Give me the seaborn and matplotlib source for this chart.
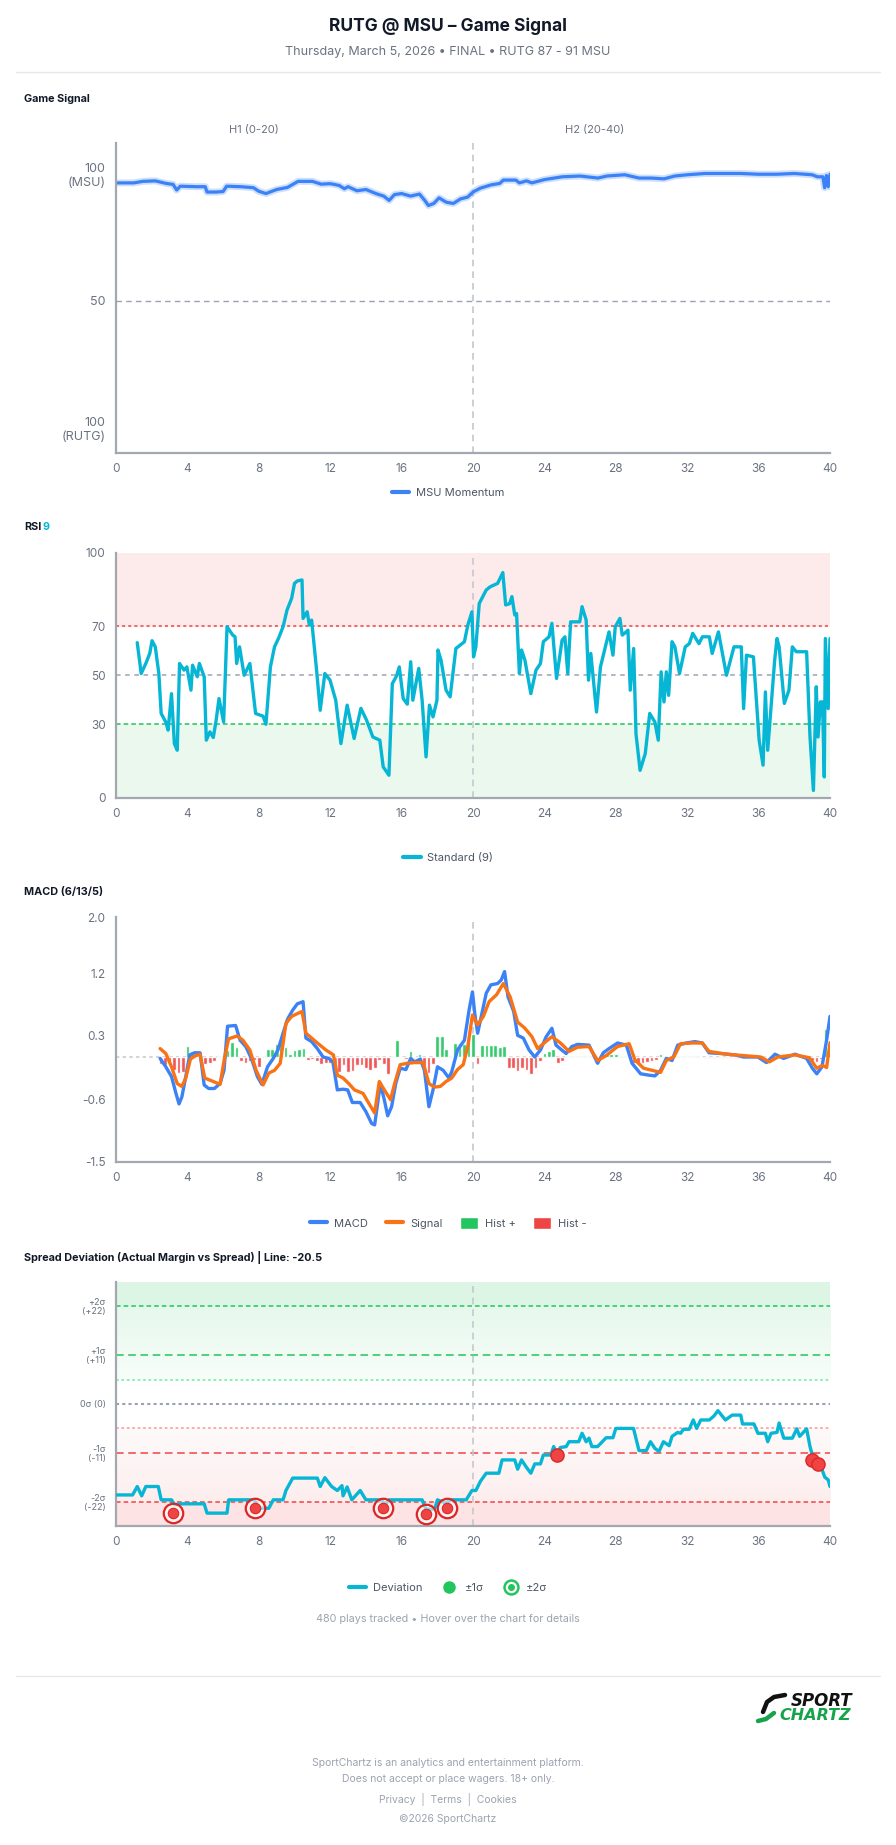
import numpy as np
import matplotlib
matplotlib.use("Agg")
import matplotlib.pyplot as plt
import seaborn as sns
from matplotlib.lines import Line2D
from matplotlib.patches import Patch
from matplotlib.legend_handler import HandlerTuple
from matplotlib.colors import LinearSegmentedColormap

# ---------------- data ----------------
# Game signal (MSU momentum, 0 = RUTG 100, 100 = MSU 100)
gs_t = [0, 1, 1.5, 2.2, 2.8, 3.2, 3.4, 3.6, 4.5, 5.0, 5.1, 5.6, 6.0, 6.2, 7.0, 7.7, 8.0, 8.4, 9.0, 9.6,
        10.2, 11.0, 11.5, 12.0, 12.5, 12.8, 13.0, 13.5, 14.0, 14.6, 15.0, 15.3, 15.6, 16.0, 16.5, 17.0,
        17.3, 17.5, 17.8, 18.1, 18.5, 18.9, 19.3, 19.7, 20.0, 20.4, 21.0, 21.5, 21.7, 22.4, 22.6, 23.0,
        23.3, 24.0, 25.0, 26.0, 27.0, 27.5, 28.5, 29.3, 30.0, 30.7, 31.3, 32.0, 33.0, 35.0, 36.0, 37.0,
        38.0, 39.0, 39.3, 39.6, 39.7, 39.8, 39.9, 40.0]
gs_v = [96.3, 96.3, 96.9, 97.1, 96.1, 95.7, 93.5, 95.0, 94.8, 94.8, 92.7, 92.7, 92.9, 95.0, 94.8, 94.4,
        93.0, 92.1, 93.7, 94.5, 96.9, 96.9, 95.8, 96.0, 95.3, 94.0, 94.8, 93.2, 93.7, 92.0, 91.1, 89.4,
        91.7, 92.1, 91.1, 91.9, 89.4, 87.4, 88.2, 90.4, 88.7, 88.2, 90.0, 90.7, 92.7, 94.2, 95.5, 96.1,
        97.4, 97.4, 96.3, 97.1, 96.3, 97.6, 98.7, 99.0, 98.2, 99.0, 99.5, 98.2, 98.2, 97.9, 99.0, 99.5,
        100, 100, 99.7, 99.7, 100, 99.5, 98.7, 98.7, 94.4, 99.2, 94.8, 99.7]

# RSI 9
rsi_t = [1.19, 1.41, 1.67, 1.89, 2.02, 2.2, 2.4, 2.53, 2.79, 2.92, 3.11, 3.27, 3.43, 3.56, 3.81, 3.97,
         4.2, 4.29, 4.55, 4.67, 4.94, 5.06, 5.26, 5.45, 5.61, 5.77, 6.03, 6.22, 6.54, 6.67, 6.76, 6.92,
         7.18, 7.5, 7.63, 7.82, 8.24, 8.4, 8.65, 8.88, 9.1, 9.36, 9.58, 9.84, 10.0, 10.16, 10.42, 10.48,
         10.71, 10.83, 10.96, 11.22, 11.44, 11.7, 11.99, 12.31, 12.6, 12.95, 13.34, 13.72, 14.04, 14.39,
         14.78, 14.97, 15.29, 15.48, 15.71, 15.87, 16.09, 16.32, 16.51, 16.63, 16.96, 17.15, 17.37, 17.56,
         17.76, 17.98, 18.04, 18.21, 18.49, 18.72, 19.04, 19.52, 19.71, 19.94, 20.03, 20.16, 20.35, 20.74,
         20.96, 21.38, 21.67, 21.83, 22.05, 22.18, 22.34, 22.44, 22.6, 22.72, 22.91, 23.24, 23.53, 23.78,
         23.94, 24.26, 24.42, 24.68, 24.99, 25.15, 25.31, 25.47, 25.98, 26.11, 26.34, 26.47, 26.6, 26.92,
         27.14, 27.62, 27.84, 27.97, 28.23, 28.36, 28.49, 28.68, 28.81, 29.0, 29.13, 29.36, 29.65, 29.9,
         30.19, 30.38, 30.54, 30.7, 30.83, 30.96, 31.15, 31.31, 31.57, 31.89, 32.12, 32.31, 32.66, 32.85,
         33.24, 33.4, 33.75, 34.2, 34.62, 35.03, 35.16, 35.32, 35.71, 36.03, 36.25, 36.38, 36.51, 36.9,
         37.03, 37.15, 37.44, 37.7, 37.89, 38.11, 38.69, 38.88, 39.07, 39.23, 39.33, 39.46, 39.58, 39.68,
         39.74, 39.9, 40.0]
rsi_v = [63.4, 50.8, 54.9, 59, 64.2, 61.7, 50.8, 34.5, 31, 27.7, 42.6, 22.2, 19.5, 54.9, 52.2, 53.5,
         44, 54.2, 49.5, 54.9, 49.5, 23.6, 27, 24.7, 31.7, 40.6, 31, 69.9, 66.5, 65.8, 54.9, 61.7,
         50.1, 54.9, 46.7, 34.5, 33.4, 30.1, 53.5, 61.7, 65.1, 69.9, 76.7, 81.5, 87.6, 88.6, 89, 73.3,
         76, 70.6, 72.6, 53.5, 35.8, 50.8, 48.1, 39.9, 22.2, 37.9, 24.3, 36.6, 31.7, 24.9,
         23.6, 12.7, 9.3, 46.7, 49.7, 53.5, 40.6, 38.3, 55.6, 39.9, 52.9, 39.9, 16.8, 37.9,
         33.1, 39.9, 60.4, 56.2, 44, 41.3, 61, 63.8, 70.6, 76, 57.6, 61.7, 79.4, 84.9,
         86.2, 87.6, 92, 78.8, 79.3, 82.2, 74.7, 75.3, 50.8, 60.4, 56.2, 42.6, 52.2, 54.9,
         63.8, 65.8, 71.3, 48.8, 64.4, 65.8, 50.8, 71.9, 71.9, 78.1, 72.6, 48.1, 59, 35.1,
         53.5, 67.8, 58.3, 69.9, 73.3, 66.5, 67.2, 68.5, 44, 61, 26.3, 11.3, 18.1, 34.5,
         31, 23.6, 51.5, 39.2, 51.5, 41.9, 63.8, 61.7, 50.8, 61.7, 63, 67.2, 63, 65.8,
         65.8, 59, 67.8, 50.1, 61.7, 61.7, 36.5, 58.3, 57.6, 23.6, 13.4, 43.3, 19.5, 56.2,
         65.1, 61.7, 38.6, 44, 61.7, 59.7, 59.7, 24.9, 3.1, 45.4, 24.9, 39.2, 39.2, 8.6,
         65.1, 36.5, 65.1]

# MACD (6/13/5)
macd_t = [2.47, 2.79, 3.11, 3.36, 3.53, 3.69, 3.91, 4.13, 4.39, 4.71, 4.94, 5.19, 5.51, 5.83, 6.05, 6.25,
          6.7, 6.95, 7.27, 7.6, 7.92, 8.17, 8.49, 8.81, 9.07, 9.36, 9.61, 9.9, 10.16, 10.48, 10.64, 10.96,
          11.28, 11.6, 11.92, 12.15, 12.4, 12.72, 12.98, 13.24, 13.68, 14.0, 14.32, 14.49, 14.81, 15.03,
          15.22, 15.44, 15.67, 15.92, 16.24, 16.51, 16.73, 17.05, 17.28, 17.53, 17.76, 18.01, 18.33, 18.65,
          18.81, 19.13, 19.52, 19.78, 19.97, 20.1, 20.26, 20.48, 20.74, 21.0, 21.38, 21.58, 21.77, 21.96,
          22.28, 22.5, 22.82, 23.14, 23.46, 23.78, 24.1, 24.42, 24.65, 24.97, 25.22, 25.54, 25.86, 26.5,
          26.98, 27.3, 27.62, 28.1, 28.59, 28.91, 29.39, 29.87, 30.19, 30.51, 30.83, 31.15, 31.47, 31.95,
          32.43, 32.85, 33.22, 33.87, 34.67, 35.16, 35.96, 36.44, 36.92, 37.4, 38.04, 38.69, 39.01, 39.26,
          39.55, 39.81, 40.0]
macd_v = [-0.02, -0.14, -0.28, -0.52, -0.67, -0.57, -0.28, 0.03, 0.06, 0.06, -0.40, -0.45, -0.45, -0.38,
          -0.19, 0.44, 0.45, 0.24, 0.15, -0.03, -0.28, -0.39, -0.14, -0.02, 0.10, 0.34, 0.54, 0.67, 0.76,
          0.79, 0.27, 0.22, 0.12, 0.0, -0.02, -0.07, -0.47, -0.46, -0.47, -0.65, -0.65, -0.78, -0.95,
          -0.97, -0.38, -0.61, -0.84, -0.71, -0.38, -0.16, -0.18, -0.02, -0.07, -0.03, -0.19, -0.71,
          -0.47, -0.14, -0.19, -0.30, -0.21, 0.10, 0.24, 0.67, 0.93, 0.62, 0.34, 0.60, 0.91, 1.03, 1.05,
          1.10, 1.22, 0.86, 0.65, 0.31, 0.27, 0.10, 0.0, 0.10, 0.29, 0.41, 0.17, 0.10, 0.05, 0.15, 0.18,
          0.17, -0.09, 0.06, 0.12, 0.20, 0.17, -0.09, -0.24, -0.26, -0.27, -0.19, -0.02, -0.05, 0.17,
          0.20, 0.22, 0.20, 0.06, 0.05, 0.03, 0.0, 0.0, -0.08, 0.04, -0.02, 0.04, -0.02, -0.16, -0.24,
          -0.14, 0.24, 0.58]
sig_t = [2.47, 2.79, 3.11, 3.43, 3.69, 3.91, 4.17, 4.46, 4.71, 4.97, 5.35, 5.83, 6.09, 6.31, 6.79, 7.11,
         7.5, 7.85, 8.24, 8.56, 8.88, 9.2, 9.52, 9.84, 10.16, 10.42, 10.64, 10.96, 11.28, 11.76, 12.18,
         12.4, 12.72, 13.04, 13.36, 13.84, 14.16, 14.49, 14.75, 15.03, 15.38, 15.61, 15.92, 16.31, 16.73,
         17.21, 17.53, 17.85, 18.17, 18.49, 18.81, 19.13, 19.45, 19.71, 19.97, 20.26, 20.58, 20.9, 21.32,
         21.7, 22.08, 22.5, 22.91, 23.3, 23.62, 23.94, 24.42, 24.9, 25.38, 25.86, 26.5, 26.98, 27.46,
         28.1, 28.75, 29.07, 29.55, 30.03, 30.51, 30.83, 31.25, 31.63, 32.27, 32.85, 33.22, 34.2, 35.16,
         36.12, 36.6, 37.08, 38.04, 38.84, 39.26, 39.58, 39.81, 40.0]
sig_v = [0.12, 0.05, -0.14, -0.38, -0.42, -0.30, -0.03, 0.02, 0.04, -0.30, -0.34, -0.39, 0.0, 0.26,
         0.30, 0.24, 0.10, -0.19, -0.40, -0.23, -0.19, -0.09, 0.48, 0.58, 0.62, 0.65, 0.34, 0.27, 0.20,
         0.10, 0.03, -0.26, -0.30, -0.38, -0.47, -0.52, -0.66, -0.80, -0.35, -0.47, -0.61, -0.38, -0.11,
         -0.09, -0.08, -0.08, -0.38, -0.43, -0.42, -0.35, -0.30, -0.18, -0.11, 0.15, 0.60, 0.46, 0.58,
         0.79, 0.89, 1.05, 0.86, 0.50, 0.41, 0.29, 0.12, 0.19, 0.29, 0.20, 0.08, 0.14, 0.15, -0.05, 0.02,
         0.15, 0.19, -0.04, -0.16, -0.19, -0.22, -0.05, 0.0, 0.19, 0.20, 0.20, 0.08, 0.04, 0.02, 0.0,
         -0.07, 0.0, 0.03, -0.01, -0.16, -0.12, -0.15, 0.20]
hist_t = [2.5 + 0.25 * i for i in range(151)]
hist_v = [-0.10, -0.12,
          -0.10, -0.18, -0.23, -0.22, 0.16, 0.04, 0.03, 0.0, -0.10, -0.09, -0.06, 0.02,
          0.0, 0.10, 0.22, 0.15, -0.05, -0.08, -0.06, -0.04, -0.14, 0.02, 0.12, 0.12,
          0.18, 0.24, 0.14, 0.05, 0.10, 0.12, 0.13, -0.04, -0.03, -0.06, -0.10, -0.08,
          -0.09, -0.14, -0.21, -0.12, -0.21, -0.20, -0.12, -0.12, -0.15, -0.18, -0.16, -0.04,
          -0.10, -0.24, 0.02, 0.24, -0.02, -0.03, 0.08, -0.02, 0.04, -0.20, -0.23, -0.10,
          0.30, 0.30, 0.12, 0.01, 0.20, 0.20, 0.18, 0.28, 0.33, -0.10, 0.17, 0.17,
          0.17, 0.17, 0.15, 0.16, -0.16, -0.16, -0.20, -0.16, -0.18, -0.24, -0.16, -0.05,
          0.06, 0.09, 0.12, -0.08, -0.05, 0.01, 0.02, 0.02, 0.02, 0.02, 0.01, -0.02,
          0.01, 0.05, 0.05, 0.05, 0.05, 0.02, 0.01, -0.02, -0.08, -0.10, -0.08, -0.07,
          -0.05, -0.04, 0.05, 0.02, -0.02, 0.01, 0.01, 0.01, 0.01, 0.01, 0.01, 0.0,
          -0.01, -0.02, -0.02, -0.01, -0.01, -0.01, -0.01, -0.01, -0.01, 0.01, 0.01, 0.01,
          0.01, -0.01, -0.01, 0.01, 0.01, 0.01, -0.01, 0.01, 0.01, 0.01, 0.01, -0.01,
          -0.06, -0.07, -0.03, 0.40, 0.25]

# Spread deviation (actual margin vs spread)
dev_t = [0, 0.93, 1.19, 1.44, 1.67, 2.37, 2.53, 3.11, 3.27, 3.69, 4.94, 5.1, 6.22, 6.31, 7.76, 7.92,
         8.56, 8.81, 9.36, 9.52, 9.9, 11.28, 11.44, 11.7, 12.08, 12.4, 12.66, 12.72, 12.95, 13.21, 13.68,
         14.0, 14.9, 15.03, 15.29, 17.15, 17.37, 17.85, 18.01, 18.43, 18.81, 19.62, 19.94, 20.16, 20.42,
         20.74, 21.45, 21.63, 22.34, 22.5, 22.72, 22.98, 23.24, 23.46, 23.78, 23.94, 24.36, 24.52, 24.68,
         24.9, 25.22, 25.38, 25.92, 26.11, 26.34, 26.5, 26.66, 26.98, 27.46, 27.84, 28.0, 28.99, 29.3,
         29.71, 29.94, 30.19, 30.42, 30.67, 30.99, 31.15, 31.47, 31.63, 31.79, 32.11, 32.34, 32.53, 32.76,
         33.24, 33.5, 33.72, 34.14, 34.52, 35.0, 35.1, 35.74, 35.96, 36.38, 36.51, 36.7, 37.03, 37.15,
         37.41, 37.89, 38.14, 38.3, 38.69, 38.88, 39.01, 39.26, 39.52, 39.71, 39.9, 40.0]
dev_v = [-20.5, -20.5, -18.6, -20.7, -18.6, -18.6, -21.6, -21.6, -22.7, -22.5, -22.5, -24.6, -24.6,
         -21.6, -21.6, -23.5, -23.5, -21.6, -21.6, -19.5, -16.7, -16.7, -18.6, -16.6, -18.6, -19.5,
         -18.4, -20.7, -18.7, -21.6, -19.5, -21.6, -21.6, -23.1, -21.6, -21.6, -23.7, -23.7, -21.6,
         -22.3, -21.6, -21.6, -19.5, -19.5, -17.4, -15.6, -15.6, -12.6, -12.6, -14.7, -12.6, -14.2,
         -15.6, -13.5, -13.5, -11.5, -11.5, -9.6, -11.1, -9.8, -9.6, -8.5, -8.5, -6.6, -8.5, -7.7,
         -9.6, -9.6, -7.6, -7.6, -5.5, -5.5, -10.5, -10.5, -8.5, -10.0, -10.7, -8.5, -9.4, -7.3, -6.4,
         -6.6, -5.7, -5.7, -3.6, -5.5, -3.6, -3.6, -2.7, -1.5, -3.6, -2.5, -2.5, -4.5, -4.5, -6.6,
         -6.6, -8.5, -6.6, -6.4, -4.3, -7.7, -7.7, -5.6, -7.3, -5.6, -9.6, -11.5, -12.6, -14.4, -16.5,
         -17.1, -18.6]
sig2_t = [3.2, 7.76, 14.97, 17.37, 18.56]
sig2_v = [-24.6, -23.5, -23.5, -24.7, -23.5]
sig1_t = [24.68, 39.0, 39.33]
sig1_v = [-11.6, -12.6, -13.5]

# ---------------- styling ----------------
sns.set_style("white")
plt.rcParams["font.family"] = ["Inter", "DejaVu Sans"]

W, H = 896, 1845
fig = plt.figure(figsize=(W / 100, H / 100), dpi=100)
fig.patch.set_facecolor("white")

AX_C = "#a3a7b0"
TXT = "#6b7280"
BLUE = "#3b82f6"
CYAN = "#06b6d4"
ORANGE = "#f97316"
GREEN = "#22c55e"
RED = "#ef4444"
VLINE = "#c4c8cf"


def ftext(x, y, s, **kw):
    return fig.text(x / W, 1 - y / H, s, **kw)


def hline(y, x0, x1, color="#e5e7eb", lw=1.0):
    fig.add_artist(Line2D([x0 / W, x1 / W], [1 - y / H, 1 - y / H], color=color, lw=lw,
                          transform=fig.transFigure))


def make_ax(top, bottom, left=116, right=830):
    ax = fig.add_axes([left / W, 1 - bottom / H, (right - left) / W, (bottom - top) / H])
    ax.set_facecolor("white")
    for s in ["top", "right"]:
        ax.spines[s].set_visible(False)
    for s in ["left", "bottom"]:
        ax.spines[s].set_color(AX_C)
        ax.spines[s].set_linewidth(1.6)
    ax.tick_params(axis="both", colors=AX_C, labelcolor=TXT, labelsize=8.5, length=4, width=1)
    ax.set_xlim(0, 40)
    ax.set_xticks(range(0, 41, 4))
    return ax


def legend_at(y, handles, labels, **kw):
    leg = fig.legend(handles, labels, loc="center", bbox_to_anchor=(0.5, 1 - y / H), ncol=len(handles),
                     frameon=False, fontsize=8, labelcolor="#4b5563", handlelength=1.6,
                     columnspacing=1.6, handletextpad=0.6, **kw)
    return leg


# header
ftext(448, 26, "RUTG @ MSU – Game Signal", ha="center", va="center", fontsize=12.5,
      fontweight="bold", color="#111827")
ftext(448, 52, "Thursday, March 5, 2026 • FINAL • RUTG 87 - 91 MSU", ha="center", va="center",
      fontsize=9, color="#6b7280")
hline(72, 16, 880)

# ---------------- panel 1: game signal ----------------
ftext(24, 99, "Game Signal", ha="left", va="center", fontsize=7.8, fontweight="bold", color="#111827")
ftext(254, 130, "H1 (0-20)", ha="center", va="center", fontsize=8, color=TXT)
ftext(595, 130, "H2 (20-40)", ha="center", va="center", fontsize=8, color=TXT)

ax1 = make_ax(143, 453)
ax1.axhline(50, color="#9ca3af", lw=1, ls=(0, (4, 3)))
ax1.axvline(20, color=VLINE, lw=1.2, ls=(0, (4, 3)))
sns.lineplot(x=gs_t, y=gs_v, ax=ax1, color=BLUE, lw=5, alpha=0.25, sort=False, estimator=None)
sns.lineplot(x=gs_t, y=gs_v, ax=ax1, color=BLUE, lw=2.3, sort=False, estimator=None)
ax1.set_ylim(-10, 112)
ax1.set_yticks([0, 50, 100])
ax1.set_yticklabels(["100\n(RUTG)", "50", "100\n(MSU)"], fontsize=9)
ax1.set_xlabel("")
legend_at(493, [Line2D([], [], color=BLUE, lw=3)], ["MSU Momentum"])

# ---------------- panel 2: RSI ----------------
ftext(24, 527, "RSI", ha="left", va="center", fontsize=7.8, fontweight="bold", color="#111827")
ftext(42, 527, "9", ha="left", va="center", fontsize=7.8, fontweight="bold", color=CYAN)

ax2 = make_ax(553, 798)
ax2.axhspan(70, 100, color="#fdeaea", zorder=0)
ax2.axhspan(0, 30, color="#eaf8ee", zorder=0)
ax2.axhline(70, color=RED, lw=1.1, ls=(0, (2, 2)))
ax2.axhline(50, color="#9ca3af", lw=1.1, ls=(0, (3, 3)))
ax2.axhline(30, color=GREEN, lw=1.1, ls=(0, (3, 2)))
ax2.axvline(20, color=VLINE, lw=1.2, ls=(0, (4, 3)))
sns.lineplot(x=rsi_t, y=rsi_v, ax=ax2, color=CYAN, lw=2.4, sort=False, estimator=None)
ax2.set_ylim(0, 100)
ax2.set_yticks([0, 30, 50, 70, 100])
ax2.set_xlabel("")
legend_at(858, [Line2D([], [], color=CYAN, lw=3)], ["Standard (9)"])

# ---------------- panel 3: MACD ----------------
ftext(24, 892, "MACD (6/13/5)", ha="left", va="center", fontsize=7.8, fontweight="bold", color="#111827")

ax3 = make_ax(917, 1162)
ax3.axhline(0, color="#c9ccd2", lw=1.2, ls=(0, (2, 2)))
ax3.axvline(20, color=VLINE, lw=1.2, ls=(0, (4, 3)))
hv = np.array(hist_v)
ax3.bar(hist_t, hv, width=0.21, color=np.where(hv >= 0, GREEN, RED), alpha=0.9, zorder=2)
sns.lineplot(x=macd_t, y=macd_v, ax=ax3, color=BLUE, lw=2.4, sort=False, estimator=None, zorder=3)
sns.lineplot(x=sig_t, y=sig_v, ax=ax3, color=ORANGE, lw=2.4, sort=False, estimator=None, zorder=4)
ax3.set_ylim(-1.5, 2.0)
ax3.set_yticks([-1.5, -0.6, 0.3, 1.2, 2.0])
ax3.set_yticklabels(["-1.5", "-0.6", "0.3", "1.2", "2.0"])
ax3.set_xlabel("")
legend_at(1223,
          [Line2D([], [], color=BLUE, lw=3), Line2D([], [], color=ORANGE, lw=3),
           Patch(facecolor=GREEN), Patch(facecolor=RED)],
          ["MACD", "Signal", "Hist +", "Hist -"], handleheight=1.2)

# ---------------- panel 4: spread deviation ----------------
ftext(24, 1257, "Spread Deviation (Actual Margin vs Spread) | Line: -20.5", ha="left", va="center",
      fontsize=7.8, fontweight="bold", color="#111827")

ax4 = make_ax(1282, 1526)
ylo, yhi = -27.5, 27.5
ax4.axhspan(22, yhi, color="#dcf5e4", zorder=0)
ax4.axhspan(ylo, -22, color="#fde3e3", zorder=0)
g_cmap = LinearSegmentedColormap.from_list("g", ["#f7fdf9", "#e6f8ec"])
r_cmap = LinearSegmentedColormap.from_list("r", ["#fdeeee", "#fefafa"])
grad = np.linspace(0, 1, 64).reshape(-1, 1)
ax4.imshow(grad, cmap=g_cmap, extent=[0, 40, 5.5, 22], aspect="auto", origin="lower", zorder=0)
ax4.imshow(grad, cmap=r_cmap, extent=[0, 40, -22, -5.5], aspect="auto", origin="lower", zorder=0)
ax4.set_xlim(0, 40)
ax4.set_ylim(ylo, yhi)
ax4.axhline(22, color=GREEN, lw=1.1, ls=(0, (3, 2)))
ax4.axhline(11, color=GREEN, lw=1.1, ls=(0, (5, 3)))
ax4.axhline(5.5, color="#86efac", lw=1.3, ls=(0, (1.5, 1.5)))
ax4.axhline(0, color="#9ca3af", lw=1.5, ls=(0, (1.5, 1.5)))
ax4.axhline(-5.5, color="#fca5a5", lw=1.3, ls=(0, (1.5, 1.5)))
ax4.axhline(-11, color=RED, lw=1.1, ls=(0, (5, 3)))
ax4.axhline(-22, color=RED, lw=1.1, ls=(0, (3, 2)))
ax4.axvline(20, color=VLINE, lw=1.2, ls=(0, (4, 3)))
sns.lineplot(x=dev_t, y=dev_v, ax=ax4, color=CYAN, lw=2.4, sort=False, estimator=None, zorder=3)
ax4.plot(sig2_t, sig2_v, ls="none", marker="o", ms=14, mfc=(1, 1, 1, 0.55), mec="#dc2626", mew=1.6, zorder=4)
ax4.plot(sig2_t, sig2_v, ls="none", marker="o", ms=7.5, mfc=RED, mec="#dc2626", mew=0.8, zorder=5)
ax4.plot(sig1_t, sig1_v, ls="none", marker="o", ms=9.5, mfc=RED, mec="#dc2626", mew=1, zorder=5)
ax4.set_yticks([-22, -11, 0, 11, 22])
ax4.set_yticklabels(["-2σ\n(-22)", "-1σ\n(-11)", "0σ (0)", "+1σ\n(+11)", "+2σ\n(+22)"], fontsize=6.5,
                    linespacing=1.0)
ax4.set_xlabel("")
ring = (Line2D([], [], ls="none", marker="o", ms=10, mfc="white", mec=GREEN, mew=1.8),
        Line2D([], [], ls="none", marker="o", ms=4, mfc=GREEN, mec=GREEN))
legend_at(1588,
          [Line2D([], [], color=CYAN, lw=3),
           Line2D([], [], ls="none", marker="o", ms=8, mfc=GREEN, mec=GREEN), ring],
          ["Deviation", "±1σ", "±2σ"], handler_map={tuple: HandlerTuple(ndivide=1)})
ftext(448, 1619, "480 plays tracked • Hover over the chart for details", ha="center", va="center",
      fontsize=7.8, color="#9ca3af")

# ---------------- footer ----------------
hline(1676, 16, 880)
# logo swoosh
fig.add_artist(Line2D([785 / W, 774 / W, 767 / W, 763 / W], [1 - 1695 / H, 1 - 1697 / H, 1 - 1702 / H, 1 - 1712 / H],
                      color="#111111", lw=3.2, solid_capstyle="round", transform=fig.transFigure))
fig.add_artist(Line2D([758 / W, 766 / W, 774 / W], [1 - 1721 / H, 1 - 1719 / H, 1 - 1713 / H],
                      color="#16a34a", lw=3.2, solid_capstyle="round", transform=fig.transFigure))
ftext(822, 1701, "SPORT", ha="center", va="center", fontsize=12, fontweight="heavy", style="italic",
      color="#111111", family=["DejaVu Sans"])
ftext(815, 1716, "CHARTZ", ha="center", va="center", fontsize=11.5, fontweight="bold", style="italic",
      color="#16a34a", family=["DejaVu Sans"])

ftext(448, 1763, "SportChartz is an analytics and entertainment platform.", ha="center", va="center",
      fontsize=7.5, color="#9ca3af")
ftext(448, 1779, "Does not accept or place wagers. 18+ only.", ha="center", va="center",
      fontsize=7.5, color="#9ca3af")
ftext(448, 1799, "Privacy  |  Terms  |  Cookies", ha="center", va="center", fontsize=7.5, color="#9ca3af")
ftext(448, 1819, "©2026 SportChartz", ha="center", va="center", fontsize=7.5, color="#9ca3af")

fig.savefig("out.png", dpi=100, facecolor="white")
